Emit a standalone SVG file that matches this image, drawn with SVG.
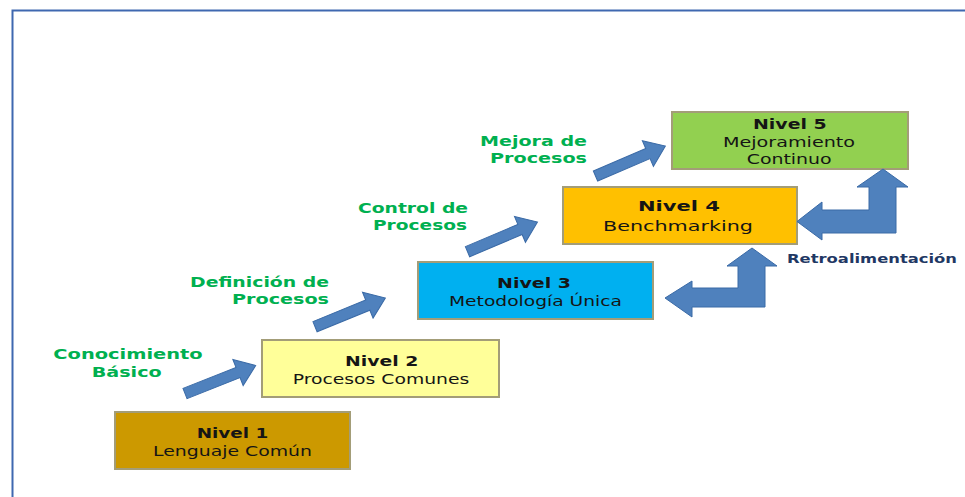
<svg xmlns="http://www.w3.org/2000/svg" xmlns:xlink="http://www.w3.org/1999/xlink" width="965" height="497" viewBox="0 0 965 497">
  <style>
    .box { stroke: #A39D78; stroke-width: 2; }
    .t { font-family: "DejaVu Sans", Verdana, sans-serif; fill: #151515; font-size: 14.8px; }
    .b { font-weight: bold; }
    .lbl { font-family: "DejaVu Sans", Verdana, sans-serif; font-weight: bold; fill: #00B050; font-size: 14.4px; }
    .fb { font-family: "DejaVu Sans", Verdana, sans-serif; font-weight: bold; fill: #1F3864; font-size: 13px; }
    .arrow { fill: #4F81BD; stroke: #3A6AA6; stroke-width: 1; }
  </style>
  <defs>
    <!-- block arrow pointing along +x, tail at origin -->
    <path id="step" d="M0,-5.5 L57,-5.5 L57,-14 L76,0 L57,14 L57,5.5 L0,5.5 Z"/>
  </defs>

  <rect width="965" height="497" fill="#FFFFFF"/>

  <!-- frame -->
  <path d="M12.5,497 L12.5,10.5 L965,10.5" fill="none" stroke="#3F68B0" stroke-width="2"/>

  <!-- level boxes -->
  <g id="nivel1">
    <rect class="box" x="115" y="412" width="235" height="57" fill="#CC9900"/>
    <text class="t b" x="196.7" y="438.3" textLength="71.6" lengthAdjust="spacingAndGlyphs">Nivel 1</text>
    <text class="t" x="153" y="455.5" textLength="159" lengthAdjust="spacingAndGlyphs">Lenguaje Común</text>
  </g>
  <g id="nivel2">
    <rect class="box" x="262" y="340" width="237" height="57" fill="#FFFF99"/>
    <text class="t b" x="345" y="365.7" textLength="73.3" lengthAdjust="spacingAndGlyphs">Nivel 2</text>
    <text class="t" x="292.7" y="383.5" textLength="176.6" lengthAdjust="spacingAndGlyphs">Procesos Comunes</text>
  </g>
  <g id="nivel3">
    <rect class="box" x="418" y="262" width="235" height="57" fill="#00B0F0"/>
    <text class="t b" x="497" y="288" textLength="74" lengthAdjust="spacingAndGlyphs">Nivel 3</text>
    <text class="t" x="449" y="305.8" textLength="173" lengthAdjust="spacingAndGlyphs">Metodología Única</text>
  </g>
  <g id="nivel4">
    <rect class="box" x="563" y="187" width="234" height="57" fill="#FFC000"/>
    <text class="t b" x="638" y="211" font-size="16.8" textLength="82" lengthAdjust="spacingAndGlyphs">Nivel 4</text>
    <text class="t" x="603" y="230.7" font-size="16.5" textLength="150" lengthAdjust="spacingAndGlyphs">Benchmarking</text>
  </g>
  <g id="nivel5">
    <rect class="box" x="672" y="112" width="236" height="57" fill="#92D050"/>
    <text class="t b" x="753" y="129" textLength="73.7" lengthAdjust="spacingAndGlyphs">Nivel 5</text>
    <text class="t" x="723" y="146.5" textLength="132" lengthAdjust="spacingAndGlyphs">Mejoramiento</text>
    <text class="t" x="746.7" y="164" textLength="85" lengthAdjust="spacingAndGlyphs">Continuo</text>
  </g>

  <!-- connectors -->
  <g id="connectors">
    <use xlink:href="#step" class="arrow" transform="translate(185,393.5) rotate(-21.6)"/>
    <use xlink:href="#step" class="arrow" transform="translate(315,326.7) rotate(-22.2)"/>
    <use xlink:href="#step" class="arrow" transform="translate(467.5,251.7) rotate(-23)"/>
    <use xlink:href="#step" class="arrow" transform="translate(595.5,176) rotate(-23.2)"/>
    <!-- feedback: left-up arrows -->
    <path class="arrow" d="M752,248 L777,266 L765,266 L765,307 L692,307 L692,317 L665,298 L692,281 L692,288 L738,288 L738,266 L727,266 Z"/>
    <path class="arrow" d="M883,169 L908,187 L896,187 L896,233 L822,233 L822,240 L797,221.5 L822,202 L822,210 L869,210 L869,187 L857,187 Z"/>
  </g>

  <!-- step labels -->
  <g id="labels">
    <text class="lbl" x="53.3" y="359.3" textLength="149.4" lengthAdjust="spacingAndGlyphs">Conocimiento</text>
    <text class="lbl" x="91.7" y="376.7" textLength="70" lengthAdjust="spacingAndGlyphs">Básico</text>
    <text class="lbl" x="190" y="287" textLength="139" lengthAdjust="spacingAndGlyphs">Definición de</text>
    <text class="lbl" x="232" y="304" textLength="97" lengthAdjust="spacingAndGlyphs">Procesos</text>
    <text class="lbl" x="358" y="213" textLength="110" lengthAdjust="spacingAndGlyphs">Control de</text>
    <text class="lbl" x="373" y="230" textLength="94" lengthAdjust="spacingAndGlyphs">Procesos</text>
    <text class="lbl" x="480" y="146" textLength="107" lengthAdjust="spacingAndGlyphs">Mejora de</text>
    <text class="lbl" x="490" y="163" textLength="97" lengthAdjust="spacingAndGlyphs">Procesos</text>
    <text class="fb" x="787" y="263" textLength="170" lengthAdjust="spacingAndGlyphs">Retroalimentación</text>
  </g>
</svg>
